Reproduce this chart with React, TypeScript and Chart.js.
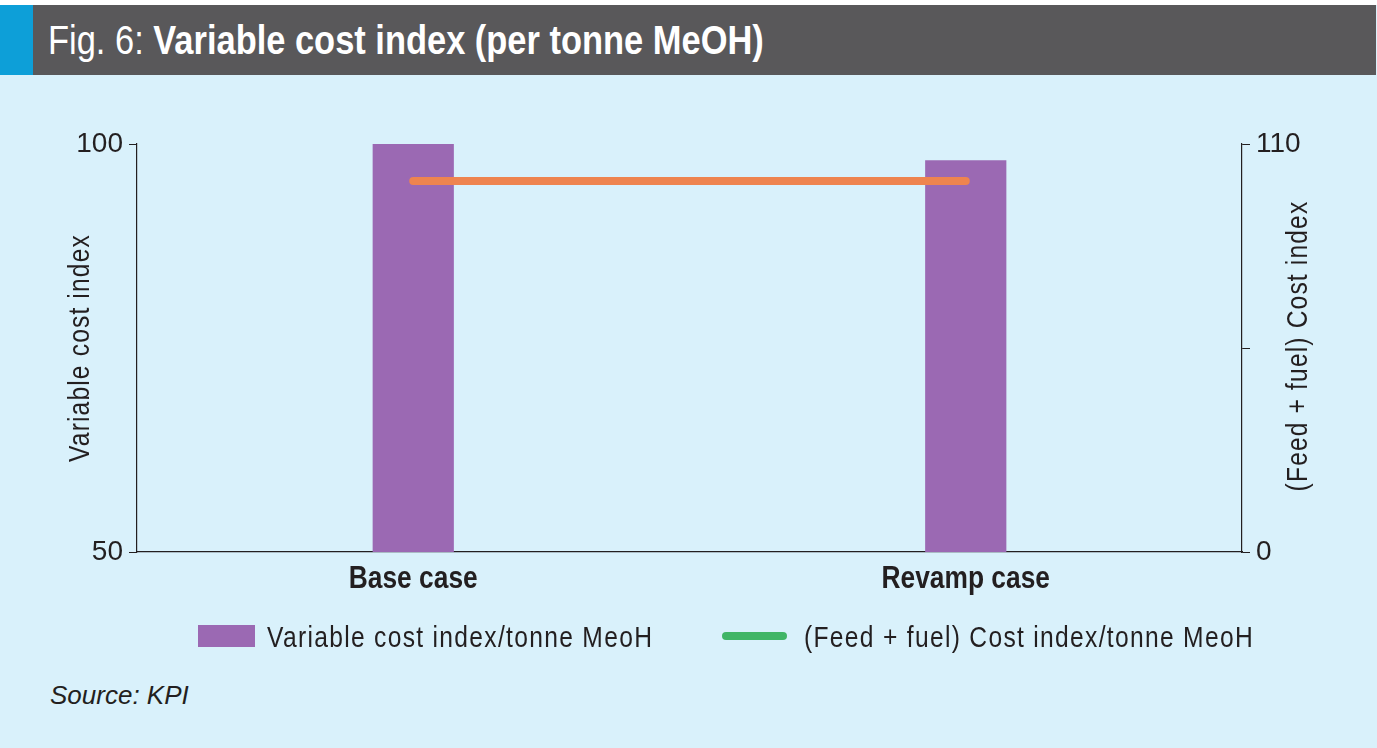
import React, { useEffect, useRef } from "react";
import { Chart, registerables } from "chart.js";

Chart.register(...registerables);

const categories = ["Base case", "Revamp case"];
const variableCost = [100, 98];
const feedFuelCost = [100, 100];
const leftTicks = [50, 100];
const rightTicks = [0, 55, 110];
const rightTickLabels = ["0", "", "110"];
const seriesLabels = ["Variable cost index/tonne MeoH", "(Feed + fuel) Cost index/tonne MeoH"];
const axisTitles = ["Variable cost index", "(Feed + fuel) Cost index"];

const TEXT = "#231f20";
const PURPLE = "#9b69b3";
const ORANGE = "#ee844f";
const GREEN = "#40b566";
const BG = "#d9f1fb";
const SANS = '"Liberation Sans", Arial, sans-serif';
const SQUEEZE = 0.82;

function drawSqueezed(
  ctx: CanvasRenderingContext2D,
  text: string,
  x: number,
  y: number,
  font: string,
  align: CanvasTextAlign,
  baseline: CanvasTextBaseline,
  rotate: number,
  spacing: string,
  sx: number = SQUEEZE
) {
  ctx.save();
  ctx.translate(x, y);
  if (rotate) ctx.rotate(rotate);
  ctx.scale(sx, 1);
  ctx.font = font;
  try { (ctx as any).letterSpacing = spacing; } catch (e) {}
  ctx.textAlign = align;
  ctx.textBaseline = baseline;
  ctx.fillStyle = TEXT;
  ctx.fillText(text, 0, 0);
  ctx.restore();
}

const overlayPlugin = {
  id: "overlay",
  afterDraw(chart: any) {
    const { ctx, chartArea } = chart;
    const midY = (chartArea.top + chartArea.bottom) / 2;
    const xs = chart.scales.x;
    ctx.save();
    // category labels
    categories.forEach((c, i) => {
      const px = xs.getPixelForValue(i);
      drawSqueezed(ctx, c, px, chartArea.bottom + 36, `bold 31px ${SANS}`, "center", "alphabetic", 0, "0px", 0.85);
    });
    // axis titles
    drawSqueezed(ctx, axisTitles[0], chartArea.left - 56, midY, `30px ${SANS}`, "center", "middle", -Math.PI / 2, "1.4px");
    drawSqueezed(ctx, axisTitles[1], chartArea.right + 57, midY - 2, `30px ${SANS}`, "center", "middle", -Math.PI / 2, "1.4px");

    // legend
    const ly = chartArea.bottom + 84;
    let x = chartArea.left + 61;
    ctx.fillStyle = PURPLE;
    ctx.fillRect(x, ly - 11, 57, 22);
    drawSqueezed(ctx, seriesLabels[0], x + 69, ly + 11, `30px ${SANS}`, "left", "alphabetic", 0, "1.6px");
    x = chartArea.left + 589;
    ctx.strokeStyle = GREEN;
    ctx.lineWidth = 8;
    ctx.lineCap = "round";
    ctx.beginPath();
    ctx.moveTo(x, ly);
    ctx.lineTo(x + 57, ly);
    ctx.stroke();
    drawSqueezed(ctx, seriesLabels[1], x + 78, ly + 11, `30px ${SANS}`, "left", "alphabetic", 0, "1.6px");
    ctx.restore();
  },
};

export default function App() {
  const ref = useRef<HTMLCanvasElement | null>(null);

  useEffect(() => {
    document.body.style.margin = "0";
    const canvas = ref.current;
    if (!canvas) return;
    const chart = new Chart(canvas, {
      type: "bar",
      data: {
        labels: categories,
        datasets: [
          {
            type: "line" as any,
            label: seriesLabels[1],
            data: feedFuelCost,
            yAxisID: "y1",
            borderColor: ORANGE,
            backgroundColor: ORANGE,
            borderWidth: 8,
            borderCapStyle: "round",
            pointRadius: 0,
            order: 0,
          } as any,
          {
            type: "bar",
            label: seriesLabels[0],
            data: variableCost,
            yAxisID: "y",
            backgroundColor: PURPLE,
            borderWidth: 0,
            barPercentage: 0.147,
            categoryPercentage: 1,
            order: 1,
          },
        ],
      },
      options: {
        animation: false,
        responsive: false,
        maintainAspectRatio: false,
        layout: { padding: { top: 64, left: 0, right: 0, bottom: 0 } },
        plugins: {
          legend: { display: false },
          tooltip: { enabled: false },
          title: { display: false },
        },
        scales: {
          x: {
            offset: true,
            grid: { display: false },
            border: { display: true, color: TEXT, width: 1.2 },
            ticks: { display: false },
            afterFit: (s: any) => { s.height = 108; },
          },
          y: {
            position: "left",
            min: 50,
            max: 100,
            afterBuildTicks: (s: any) => { s.ticks = leftTicks.map((v) => ({ value: v })); },
            grid: { drawOnChartArea: false, drawTicks: true, tickLength: 8, color: TEXT },
            border: { display: true, color: TEXT, width: 1.2 },
            ticks: {
              color: TEXT,
              padding: 6,
              font: { family: SANS, size: 28 },
              callback: (v: any) => String(v),
            },
            afterFit: (s: any) => { s.width = 137; },
          },
          y1: {
            position: "right",
            min: 0,
            max: 110,
            afterBuildTicks: (s: any) => { s.ticks = rightTicks.map((v) => ({ value: v })); },
            grid: { drawOnChartArea: false, drawTicks: true, tickLength: 8, color: TEXT },
            border: { display: true, color: TEXT, width: 1.2 },
            ticks: {
              color: TEXT,
              padding: 6,
              font: { family: SANS, size: 28 },
              callback: (v: any) => {
                const i = rightTicks.indexOf(Number(v));
                return i >= 0 ? rightTickLabels[i] : "";
              },
            },
            afterFit: (s: any) => { s.width = 135; },
          },
        },
      },
      plugins: [overlayPlugin],
    });
    return () => chart.destroy();
  }, []);

  return (
    <div style={{ position: "relative", width: 1377, height: 748, background: BG, overflow: "hidden" }}>
      <div style={{ position: "absolute", left: 0, top: 0, width: 1377, height: 5, background: "#ffffff" }} />
      <div style={{ position: "absolute", left: 0, top: 5, width: 1376, height: 70, background: "#59585a" }} />
      <div style={{ position: "absolute", left: 0, top: 5, width: 33, height: 70, background: "#0d9fd8" }} />
      <div
        style={{
          position: "absolute",
          left: 48,
          top: 5,
          height: 70,
          lineHeight: "70px",
          color: "#ffffff",
          fontFamily: SANS,
          fontSize: 41,
          whiteSpace: "nowrap",
          transform: "scaleX(0.84)",
          transformOrigin: "left center",
        }}
      >
        Fig. 6: <span style={{ fontWeight: "bold" }}>Variable cost index (per tonne MeOH)</span>
      </div>
      <canvas
        ref={ref}
        width={1377}
        height={580}
        style={{ position: "absolute", left: 0, top: 80, width: 1377, height: 580 }}
      />
      <div
        style={{
          position: "absolute",
          left: 50,
          top: 680,
          fontFamily: SANS,
          fontStyle: "italic",
          fontSize: 26,
          lineHeight: "30px",
          color: TEXT,
        }}
      >
        Source: KPI
      </div>
    </div>
  );
}
